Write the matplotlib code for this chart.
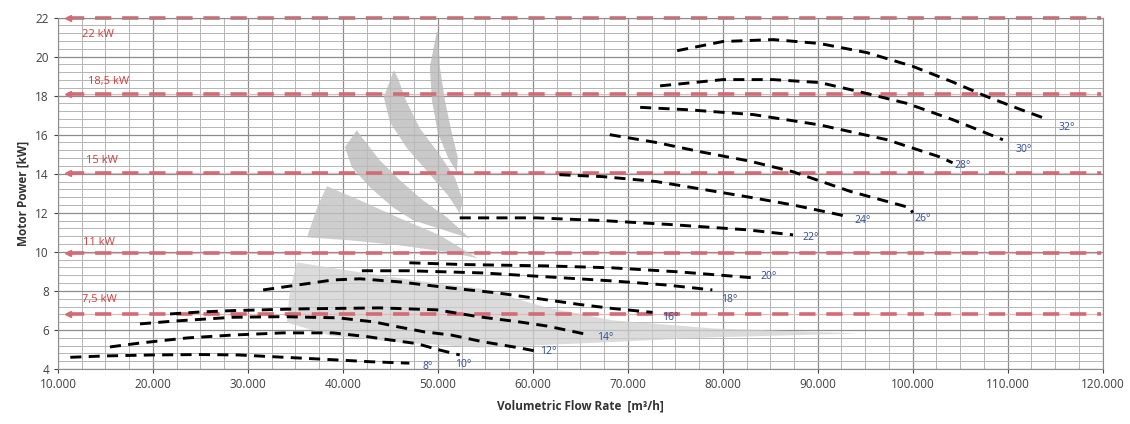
import numpy as np
import matplotlib
matplotlib.use("Agg")
import matplotlib.pyplot as plt
from matplotlib.patches import Polygon
from matplotlib.ticker import FuncFormatter, MultipleLocator

plt.rcParams['font.family'] = ['Open Sans', 'DejaVu Sans']

# blade angle curves: flow [m3/h] vs motor power [kW]
angles = ['8°', '10°', '12°', '14°', '16°', '18°', '20°',
          '22°', '24°', '26°', '28°', '30°', '32°']

flow_8 = [11300, 15000, 20000, 25000, 29000, 33000, 38000, 43000, 47000]
pow_8 = [4.60, 4.67, 4.72, 4.74, 4.72, 4.62, 4.50, 4.37, 4.30]
flow_10 = [15470, 18630, 23580, 28420, 33680, 38950, 42530, 44950, 47790, 50210, 52300]
pow_10 = [5.13, 5.33, 5.59, 5.74, 5.85, 5.85, 5.66, 5.49, 5.30, 4.97, 4.72]
flow_12 = [18630, 22100, 28400, 33700, 39500, 43300, 45900, 48600, 51400, 54700, 58600, 60500]
pow_12 = [6.31, 6.45, 6.65, 6.68, 6.62, 6.41, 6.15, 5.90, 5.74, 5.40, 5.08, 4.90]
flow_14 = [21800, 25000, 28400, 35500, 43900, 49900, 54400, 58600, 61500, 66000]
pow_14 = [6.82, 6.92, 6.99, 7.08, 7.13, 7.03, 6.67, 6.41, 6.20, 5.74]
flow_16 = [31600, 34500, 38950, 41800, 46000, 51300, 56200, 61500, 65000, 68400, 72600]
pow_16 = [8.05, 8.25, 8.56, 8.62, 8.46, 8.15, 7.90, 7.54, 7.30, 7.10, 6.90]
flow_18 = [42000, 47000, 54700, 61500, 68400, 74100, 78900]
pow_18 = [9.03, 9.03, 8.92, 8.72, 8.51, 8.30, 8.05]
flow_20 = [47000, 52600, 61500, 68400, 75500, 83200]
pow_20 = [9.44, 9.35, 9.28, 9.18, 8.97, 8.67]
flow_22 = [52300, 60400, 67400, 74400, 82500, 87400]
pow_22 = [11.74, 11.74, 11.60, 11.40, 11.13, 10.87]
flow_24 = [62800, 67400, 73000, 77900, 82800, 87400, 92300, 93000]
pow_24 = [13.95, 13.85, 13.60, 13.20, 12.80, 12.40, 11.90, 11.80]
flow_26 = [68100, 73000, 77900, 82800, 87400, 93400, 99700, 100000]
pow_26 = [16.00, 15.60, 15.10, 14.65, 14.10, 13.10, 12.26, 12.00]
flow_28 = [71300, 76200, 83200, 90200, 97300, 102800, 104200]
pow_28 = [17.40, 17.28, 17.03, 16.50, 15.74, 14.87, 14.56]
flow_30 = [73400, 80000, 85300, 90200, 94400, 99400, 104200, 109500]
pow_30 = [18.50, 18.82, 18.82, 18.67, 18.20, 17.60, 16.77, 15.74]
flow_32 = [75200, 80000, 85300, 90200, 95200, 100000, 104200, 107800, 111300, 114100]
pow_32 = [20.30, 20.77, 20.87, 20.67, 20.20, 19.50, 18.70, 17.95, 17.30, 16.80]

curve_flows = [flow_8, flow_10, flow_12, flow_14, flow_16, flow_18, flow_20,
               flow_22, flow_24, flow_26, flow_28, flow_30, flow_32]
curve_pows = [pow_8, pow_10, pow_12, pow_14, pow_16, pow_18, pow_20,
              pow_22, pow_24, pow_26, pow_28, pow_30, pow_32]

# angle label anchors
label_flow = [48400, 51800, 60800, 66800, 73600, 79800, 84000,
              88400, 93900, 100200, 104400, 110800, 115300]
label_pow = [4.15, 4.25, 4.92, 5.59, 6.62, 7.54, 8.72,
             10.72, 11.60, 11.70, 14.40, 15.23, 16.36]

# motor size limits
motor_names = ['22 kW', '18,5 kW', '15 kW', '11 kW', '7,5 kW']
motor_pow = [22.0, 18.1, 14.05, 9.95, 6.8]
motor_label_flow = [12500, 13200, 12900, 12600, 12500]
motor_label_pow = [21.15, 18.72, 14.70, 10.50, 7.55]
motor_start, motor_end = 11050, 119800

# grey operating fans (outline vertices)
fan1_flow = [49890, 49157, 49368, 50000, 51050, 52000, 52100, 51470, 50740, 50210, 50000]
fan1_pow = [21.26, 19.46, 17.77, 16.08, 14.85, 14.08, 14.85, 16.08, 17.77, 19.46, 21.26]
fan2_flow = [45370, 44310, 44950, 46740, 48950, 51050, 52310, 52630, 51790, 50000, 48100, 46630, 45790]
fan2_pow = [19.31, 17.92, 16.64, 15.31, 14.08, 12.90, 11.97, 12.64, 13.82, 15.10, 16.33, 17.77, 18.90]
fan3_flow = [41470, 40210, 40950, 42840, 45260, 47370, 53370, 50950, 48420, 46000, 43890, 41990]
fan3_pow = [16.23, 15.36, 14.33, 13.31, 12.28, 11.62, 10.69, 11.77, 12.64, 13.67, 14.69, 15.87]
fan4_flow = [38320, 37370, 36210, 40740, 46000, 51260, 54210, 50210, 46000, 41790]
fan4_pow = [13.36, 12.38, 10.74, 10.59, 10.33, 9.97, 9.67, 10.85, 11.72, 12.64]
fan5_flow = [35160, 34420, 34100, 38630, 46000, 54420, 64950, 78950, 94420,
             78950, 68420, 61470, 54420, 49890, 41790]
fan5_pow = [9.46, 8.03, 6.38, 5.72, 5.36, 5.10, 5.31, 5.62, 5.82,
            6.08, 6.49, 7.15, 8.13, 8.38, 8.95]

fig = plt.figure(figsize=(11.3, 4.24), dpi=100)
ax = fig.add_axes([0.0513, 0.1297, 0.9245, 0.829])

ax.set_xlim(10000, 120000)
ax.set_ylim(4, 22)
ax.xaxis.set_major_locator(MultipleLocator(10000))
ax.xaxis.set_minor_locator(MultipleLocator(2500))
ax.yaxis.set_major_locator(MultipleLocator(2))
ax.yaxis.set_minor_locator(MultipleLocator(0.4))
ax.xaxis.set_major_formatter(FuncFormatter(lambda v, p: f'{int(v):,}'.replace(',', '.')))
ax.grid(which='major', color='#8c8c8c', lw=0.9)
ax.grid(which='minor', color='#b5b5b5', lw=0.7)
ax.set_axisbelow(True)
ax.tick_params(which='major', labelsize=8.5, colors='#404040', length=3)
ax.tick_params(which='minor', length=0)
for s in ax.spines.values():
    s.set_color('#8c8c8c')

fans = [(fan1_flow, fan1_pow, '#b9b9b9', 0.8), (fan2_flow, fan2_pow, '#bcbcbc', 0.8),
        (fan3_flow, fan3_pow, '#bcbcbc', 0.8), (fan4_flow, fan4_pow, '#c2c2c2', 0.8),
        (fan5_flow, fan5_pow, '#cfcfcf', 0.75)]
for fx, fy, col, a in fans:
    ax.add_patch(Polygon(np.column_stack([fx, fy]), closed=True,
                         facecolor=col, edgecolor='none', alpha=a, zorder=1))

for name, p, lx, ly in zip(motor_names, motor_pow, motor_label_flow, motor_label_pow):
    ax.plot([motor_start, motor_end], [p, p], color='#eab4b8', lw=0.8, zorder=2)
    ax.plot([motor_start, motor_end], [p, p], color='#d26b74', lw=2.6,
            dashes=(4.5, 3), zorder=2, clip_on=False)
    ax.plot([motor_start], [p], marker='<', ms=5, color='#d26b74', zorder=3, clip_on=False)
    ax.text(lx, ly, name, color='#d83a3a', fontsize=8, ha='left', va='center', zorder=4)

for fx, fy in zip(curve_flows, curve_pows):
    ax.plot(fx, fy, color='black', lw=2.1, dashes=(3.8, 2.5), zorder=5)

for name, lx, ly in zip(angles, label_flow, label_pow):
    ax.text(lx, ly, name, color='#2c4a9a', fontsize=7.5, ha='left', va='center', zorder=6)

ax.set_xlabel('Volumetric Flow Rate  [m³/h]', fontsize=8.5, fontweight='bold',
              color='#333333', labelpad=6)
ax.set_ylabel('Motor Power [kW]', fontsize=8.5, fontweight='bold', color='#333333')

fig.savefig('out.png', dpi=100)
